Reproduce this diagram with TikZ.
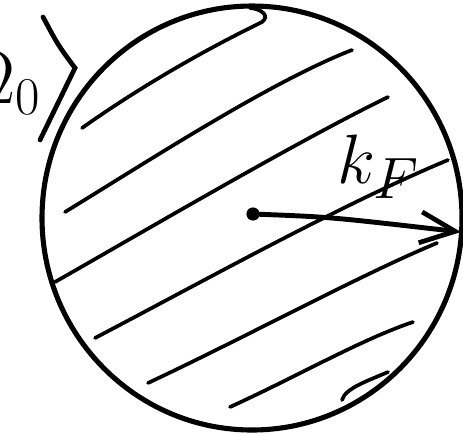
\documentclass[tikz,border=0pt]{standalone}
\usepackage{tikz}
\usetikzlibrary{
  arrows.meta,
  calc
}
\tikzset{
  rim/.style={
    draw=black,
    line width=2.9pt,
    line cap=round,
    line join=round
  },
  hatch/.style={
    draw=black,
    line width=2.1pt,
    line cap=round
  },
  ket/.style={
    draw=black,
    line width=2.7pt,
    line cap=round,
    line join=miter
  },
  dot/.style={
    circle,
    fill=black,
    inner sep=0pt,
    minimum size=7.5pt
  },
  wavevec/.style={
    -{Straight Barb[length=7mm,width=6.2mm,line width=2.7pt]},
    line width=2.8pt,
    line cap=round
  },
  bigtext/.style={
    inner sep=0pt,
    font=\fontsize{24.88}{25}\selectfont,
    scale=#1
  }
}

\begin{document}
\begin{tikzpicture}[x=0.02cm,y=-0.02cm]

  \useasboundingbox (0,0) rectangle (463,434);
  \clip (0,0) rectangle (463,434);

  % ground state label, cut at the page edge
  \node[
    bigtext=1.75,
    anchor=base east
  ] (state) at (42,103) {
    $\Omega_{\scriptscriptstyle 0}$
  };

  \draw[ket]
  (43,17) .. controls (58,45) .. (75,68) -- (40,140);

  % Fermi sphere
  \draw[rim] (252,218) ellipse [x radius=210, y radius=212];

  % filled states
  \draw[hatch]
  (82,128) .. controls (150,80) and (215,45) .. (262,22)
  .. controls (270,16) and (262,9) .. (250,8);
  \draw[hatch] (65,212) .. controls (150,160) and (270,82) .. (352,50);
  \draw[hatch] (55,282) .. controls (160,222) and (300,140) .. (388,97);
  \draw[hatch] (95,338) .. controls (200,283) and (340,205) .. (448,160);
  \draw[hatch] (148,383) .. controls (250,335) and (360,275) .. (437,243);
  \draw[hatch] (230,407) .. controls (300,375) and (360,340) .. (413,322);
  \draw[hatch] (342,400) .. controls (345,388) and (370,380) .. (388,372);

  % Fermi wavevector
  \node[dot] (origin) at (253,214) {};
  \coordinate (kedge) at (461,232);

  \draw[wavevec]
  (origin) .. controls (330,217) .. (kedge);

  \node[
    bigtext=1.6,
    anchor=base west
  ] (kf) at (337,183) {
    $k_F$
  };

\end{tikzpicture}
\end{document}
